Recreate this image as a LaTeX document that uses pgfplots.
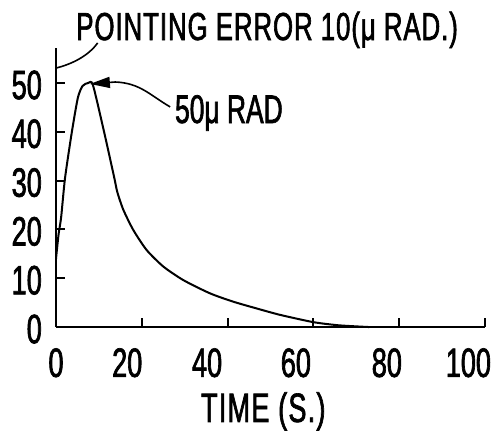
\documentclass[border=0pt]{standalone}
\usepackage{fontspec}
\setmainfont{Liberation Sans}[FakeStretch=0.66, FakeBold=1.6]
\usepackage{pgfplots}
\pgfplotsset{compat=1.18}
\usetikzlibrary{arrows.meta}
\begin{document}
\begin{tikzpicture}
\begin{axis}[
  x=4.29bp, y=4.88bp,
  xmin=0, xmax=100, ymin=0, ymax=57.2,
  axis x line*=bottom, axis y line*=left,
  axis line style={-, line width=2.4bp, black},
  clip=false,
  xtick={20,40,60,80,100}, xticklabels={,,,,},
  extra x ticks={0,16.6,35.2,55.9,77.1,96.1},
  extra x tick labels={0,20,40,60,80,100},
  extra x tick style={major tick length=0pt},
  ytick={0,10,20,30,40,50},
  tick align=inside, major tick length=9bp,
  tick style={line width=2bp, black},
  /pgf/number format/assume math mode=true,
  ticklabel style={font=\fontsize{41bp}{41bp}\selectfont},
  xticklabel style={anchor=north, inner sep=0pt, yshift=-21bp},
  yticklabel style={anchor=east, inner sep=0pt, xshift=-14bp, yshift=-2bp},
  xlabel={TIME (S.)},
  xlabel style={at={(axis cs:48.3,0)}, anchor=north, inner sep=0pt, yshift=-65bp, font=\fontsize{41bp}{41bp}\selectfont\addfontfeatures{LetterSpace=3}},
]
\addplot[smooth, tension=0.4, line width=2bp, black] coordinates {
  (0,14) (0.6,19) (1.2,22.5) (2.1,30.5) (3.7,40) (5.1,47) (6.2,49.4) (7.5,50)
  (8.6,49.6) (11.2,40) (13.6,30.5) (14.3,27.6) (15.7,24) (18,19.9) (21.1,15.8)
  (25,12.4) (29.7,9.6) (35.9,6.9) (41.3,5.2) (46.8,3.8) (52.2,2.5)
  (60,1.0) (66,0.35) (73,0)
};
% title and leader
\node[anchor=base, inner sep=0pt, font=\fontsize{39bp}{39bp}\selectfont\addfontfeatures{LetterSpace=2.5}] at (axis cs:49.2,58.8) {POINTING ERROR 10(μ RAD.)};
\draw[line width=1.6bp] (axis cs:9.7,58.2) .. controls (axis cs:7.5,55.5) and (axis cs:3.7,53.9) .. (axis cs:0.2,53.1);
% peak annotation
\node[anchor=base west, inner sep=0pt, font=\fontsize{40bp}{40bp}\selectfont] at (axis cs:27.7,41.8) {50μ RAD};
\draw[line width=1.6bp, -{Triangle[length=20bp,width=11bp]}] (axis cs:26.6,45.1) .. controls (axis cs:21.9,47.5) and (axis cs:19.6,50.0) .. (axis cs:13.8,50.2) -- (axis cs:7.9,49.8);
% bounding box
\path (axis cs:-13.05,67.0) (axis cs:101.6,-20.5);
\end{axis}
\end{tikzpicture}
\end{document}
